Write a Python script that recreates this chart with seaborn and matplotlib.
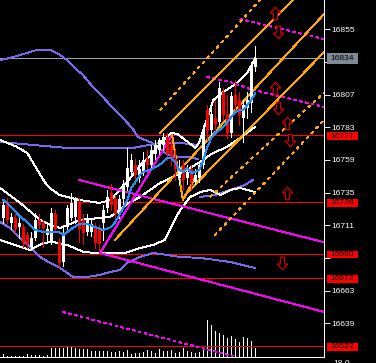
import numpy as np
import matplotlib
matplotlib.use('Agg')
import matplotlib.pyplot as plt
import seaborn as sns
from matplotlib.path import Path
from matplotlib.patches import Rectangle

# ---- candles (price) ----
opens = [16716, 16728, 16713, 16716, 16710, 16710, 16704, 16695, 16702, 16715,
         16713, 16704, 16698, 16719, 16699, 16684, 16710, 16716, 16717, 16728,
         16715, 16706, 16706, 16710, 16708, 16713, 16724, 16735, 16730, 16719,
         16730, 16739, 16750, 16755, 16746, 16750, 16760, 16755, 16763, 16766,
         16770, 16776, 16770, 16760, 16746, 16755, 16746, 16752, 16743, 16746,
         16755, 16796, 16781, 16790, 16787, 16809, 16792, 16779, 16807, 16803,
         16790, 16797, 16801, 16827]
highs = [16730, 16731, 16720, 16719, 16716, 16712, 16706, 16706, 16720, 16719,
         16715, 16711, 16724, 16722, 16702, 16709, 16726, 16735, 16732, 16731,
         16719, 16719, 16716, 16713, 16711, 16726, 16737, 16741, 16733, 16733,
         16744, 16768, 16763, 16760, 16759, 16765, 16766, 16770, 16774, 16775,
         16779, 16779, 16774, 16766, 16759, 16759, 16755, 16755, 16752, 16757,
         16785, 16799, 16797, 16803, 16816, 16812, 16807, 16809, 16818, 16809,
         16803, 16809, 16831, 16843]
lows = [16713, 16713, 16708, 16706, 16702, 16695, 16694, 16693, 16700, 16709,
        16695, 16698, 16697, 16706, 16680, 16681, 16708, 16715, 16713, 16699,
        16697, 16704, 16703, 16694, 16691, 16700, 16721, 16722, 16713, 16716,
        16726, 16737, 16748, 16741, 16743, 16748, 16750, 16753, 16760, 16763,
        16766, 16759, 16755, 16744, 16741, 16737, 16741, 16737, 16741, 16743,
        16753, 16774, 16777, 16781, 16785, 16788, 16775, 16776, 16796, 16785,
        16772, 16790, 16794, 16824]
closes = [16726, 16715, 16717, 16708, 16713, 16698, 16697, 16702, 16715, 16711,
          16709, 16708, 16720, 16708, 16683, 16705, 16724, 16727, 16730, 16708,
          16705, 16715, 16712, 16698, 16697, 16722, 16732, 16726, 16719, 16730,
          16741, 16753, 16759, 16748, 16752, 16759, 16755, 16766, 16770, 16774,
          16776, 16763, 16760, 16752, 16753, 16744, 16750, 16743, 16748, 16755,
          16781, 16780, 16793, 16785, 16812, 16792, 16779, 16806, 16799, 16792,
          16799, 16803, 16829, 16834]
volumes = [27, 10, 7, 7, 7, 7, 27, 17, 17, 17, 13, 17, 90, 90, 90, 90, 97, 97,
           87, 80, 83, 77, 63, 63, 57, 63, 57, 47, 47, 57, 50, 67, 33, 40, 43,
           47, 67, 60, 43, 77, 63, 60, 67, 40, 50, 87, 60, 53, 40, 50, 90, 367,
           323, 257, 243, 220, 190, 210, 177, 150, 197, 190, 157, 87]

# ---- indicator lines (bar position, price) ----
ma_x = [0, 2, 4, 6, 8, 10, 12, 14, 15, 17, 19, 21, 23, 25, 27, 28, 29, 30, 31, 32,
        33, 34, 35, 37, 39, 40, 41, 42, 43, 44, 45, 46, 47, 48, 49, 50, 51, 52, 53,
        54, 55, 56, 57, 58, 59, 60, 61, 62, 63]
ma_y = [16729.6, 16724.4, 16717.8, 16713.4, 16707.5, 16706, 16706, 16706, 16703.8,
        16708.3, 16711.9, 16711.9, 16709.7, 16707.5, 16709.7, 16713.4, 16718.5,
        16723.7, 16729.6, 16738.4, 16742.8, 16747.2, 16750.1, 16752.3, 16755.3,
        16757.5, 16760.4, 16760.4, 16757.5, 16751.6, 16750.1, 16753.1, 16749.4,
        16750.1, 16751.6, 16758.9, 16768.5, 16775.1, 16778.8, 16781, 16783.2,
        16786.9, 16790.5, 16794.2, 16795.7, 16795.7, 16799.4, 16803, 16808.2]

bb_up_x = [-0.8, 3, 6, 8.5, 10.5, 12, 14, 16, 19, 24, 27, 29, 32, 34, 37, 39, 42,
           43.5, 45.5, 48, 49, 51, 52.5, 55, 58.5, 61, 63]
bb_up_y = [16773.6, 16769.2, 16764.1, 16751.6, 16742.1, 16737.6, 16733.2, 16731.8,
           16729.6, 16727.4, 16729.6, 16736.9, 16746.5, 16754.5, 16762.6, 16770.7,
           16778.8, 16778.1, 16773.6, 16767.8, 16772.2, 16789.8, 16803, 16808.9,
           16815.5, 16822.9, 16833.9]
bb_mid_x = [-0.8, 4.2, 9.2, 11.7, 14.2, 19.2, 26.7, 30, 31.7, 34.2, 39.2, 43.4,
            46.7, 49.2, 52.4, 55.9, 58.4, 60.9, 62.9]
bb_mid_y = [16738.4, 16727.4, 16714.9, 16711.2, 16709, 16714.9, 16717.1, 16724.4,
            16728.1, 16731.8, 16742.1, 16747.9, 16753.1, 16757.5, 16764.1, 16768.5,
            16773.6, 16778.8, 16783.2]
bb_low_x = [-0.8, 3, 6.7, 10, 12.4, 16, 20, 23.4, 30.4, 34.2, 37.4, 40.4, 42.2,
            44.2, 46.7, 49.2, 51.7, 54.2, 56.7, 59.2, 62.9]
bb_low_y = [16700.2, 16696.5, 16692.8, 16698, 16698.7, 16696.5, 16691.4, 16690.6,
            16690.6, 16694.3, 16696.5, 16700.2, 16711.2, 16722.2, 16731.8, 16735.4,
            16736.9, 16733.2, 16736.9, 16738.4, 16735.4]

env_up_x = [-0.8, 1.7, 4.2, 6.7, 8.4, 11.7, 14.2, 15.9, 18.4, 19.9, 22.4, 24.9,
            27.4, 29.2, 32.2, 33.7, 35.4, 37.2, 38.7, 40.4, 42.9, 46.7, 48.7]
env_up_y = [16832.4, 16833.9, 16836.1, 16838.3, 16839.8, 16839.8, 16836.1, 16832.4,
            16825.1, 16821.4, 16812.6, 16805.2, 16797.2, 16792, 16782.5, 16775.8,
            16773.6, 16771.5, 16767.8, 16764.1, 16761.1, 16761.1, 16759.6]
env_mid_x = [-0.8, 7.4, 15.9, 24.2, 32.4, 39.2, 44.2, 48.7]
env_mid_y = [16772.2, 16770, 16767.8, 16767.8, 16767.8, 16771.5, 16771.5, 16770]
env_low_x = [-0.8, 1.7, 4.2, 6.7, 9.2, 11.7, 14.2, 17.4, 20.9, 24.2, 26.7, 29.2,
             30.9, 34.2, 37.4, 40.9, 44.2, 49.2, 56.7, 62.9]
env_low_y = [16713.4, 16709, 16701.6, 16695, 16687.7, 16683.3, 16679.6, 16673,
             16673, 16674.5, 16676.7, 16678.1, 16683.3, 16687.7, 16690.6, 16689.2,
             16687.7, 16687, 16684, 16679.6]
env_rise_x = [49.2, 52.9, 56.7, 60.4, 62.4]
env_rise_y = [16731.8, 16733.2, 16736.9, 16740.6, 16744.3]

# swing lines
mag_lines = [([18.9, 80.2], [16744.3, 16698.5]),
             ([24.2, 42.2], [16690.6, 16777.3]),
             ([24.2, 80.2], [16690.6, 16647.3])]
mag_dash = [([59.2, 80.2], [16862.5, 16847.8]),
            ([50.9, 56.7, 61.7, 80.2], [16819.9, 16816.3, 16811.1, 16797.9]),
            ([14.9, 57.4], [16647.3, 16614.9])]
orange_zig_x = [42.2, 44.9, 47.9]
orange_zig_y = [16777.3, 16729.6, 16745.7]
orange_solid = [([39.2, 72.4], [16778.8, 16876.5]),
                ([27.9, 80.2], [16700.2, 16866.2]),
                ([45.4, 80.2], [16733.2, 16838.3])]
orange_dash = [([39.2, 64.2], [16795.7, 16876.5]),
               ([51.7, 61.7, 80.2], [16731.8, 16759.0, 16808.2]),
               ([52.9, 80.2], [16703.8, 16788.3])]

# levels
level_prices = [16777, 16728, 16690, 16672, 16622]
bid_price = 16834
yticks = [16855, 16831, 16807, 16783, 16759, 16735, 16711, 16687, 16663, 16639]
hidden_ticks = [16831, 16687]   # covered by the price boxes

up_arrows_x = [67.9, 67.9, 71.0, 71.0]
up_arrows_y = [16867.2, 16811.6, 16786.3, 16734.9]
dn_arrows_x = [68.75, 68.75, 71.7, 69.6]
dn_arrows_y = [16853.2, 16796.9, 16773.6, 16683.1]

# ---- style ----
sns.set_style('dark')
plt.rcParams['font.family'] = ['Liberation Sans', 'DejaVu Sans']
plt.rcParams['lines.antialiased'] = False
plt.rcParams['patch.antialiased'] = False

W, H = 376, 363
fig = plt.figure(figsize=(W / 100, H / 100), dpi=100, facecolor='black')
ax = fig.add_axes([0, 6 / H, 324 / W, 357 / H])
ax.set_facecolor('black')
ax.set_xlim(-0.825, 80.175)
ax.set_ylim(16614.2, 16876.5)
ax.grid(False)

LW = 0.66

# volume (bottom, in axes fraction)
bars = np.arange(len(closes))
ax.vlines(bars, 0, np.array(volumes) / 3570.0, colors='white', lw=LW,
          transform=ax.get_xaxis_transform(), zorder=1)

# levels
for p in level_prices:
    ax.axhline(p, color='#ff0000', lw=LW, zorder=2)
ax.axhline(bid_price, color='#a0a4a8', lw=LW, zorder=2)

# indicator lines
def line(x, y, color, **kw):
    sns.lineplot(x=x, y=y, ax=ax, color=color, lw=LW, estimator=None,
                 sort=False, zorder=3, **kw)

line(env_up_x, env_up_y, '#7b68ee')
line(env_mid_x, env_mid_y, '#7b68ee')
line(env_low_x, env_low_y, '#7b68ee')
line(env_rise_x, env_rise_y, '#7b68ee')
line(bb_up_x, bb_up_y, 'white')
line(bb_mid_x, bb_mid_y, 'white')
line(bb_low_x, bb_low_y, 'white')
for xs, ys in mag_lines:
    line(xs, ys, '#ff00ff')
for xs, ys in mag_dash:
    line(xs, ys, '#ff00ff', linestyle=(0, (2.2, 3.5)))
for xs, ys in orange_solid:
    line(xs, ys, '#ffa500')
for xs, ys in orange_dash:
    line(xs, ys, '#ffa500', linestyle=(0, (2.2, 4.5)))
line(orange_zig_x, orange_zig_y, '#ffa500')

# candles
o = np.array(opens); c = np.array(closes)
cols = np.where(c >= o, 'white', '#ff0000')
ax.vlines(bars, lows, highs, colors=cols, lw=LW, zorder=4)
body_lo = np.minimum(o, c)
body_h = np.maximum(np.abs(c - o), 0.6)
ax.bar(bars, body_h, bottom=body_lo, width=0.72, color=cols, lw=0, zorder=5)

line(ma_x, ma_y, '#1e90ff')
ax.lines[-1].set_zorder(6)

# arrows
up_path = Path([(0, 0.5), (0.42, 0.04), (0.17, 0.04), (0.17, -0.5),
                (-0.17, -0.5), (-0.17, 0.04), (-0.42, 0.04), (0, 0.5)], closed=True)
dn_path = Path([(0, -0.5), (0.42, -0.04), (0.17, -0.04), (0.17, 0.5),
                (-0.17, 0.5), (-0.17, -0.04), (-0.42, -0.04), (0, -0.5)], closed=True)
ax.plot(up_arrows_x, up_arrows_y, ls='none', marker=up_path, ms=9,
        mfc='black', mec='#e00000', mew=0.8, zorder=7)
ax.plot(dn_arrows_x, dn_arrows_y, ls='none', marker=dn_path, ms=9,
        mfc='black', mec='#e00000', mew=0.8, zorder=7)

# axes frame
for s in ['top', 'left']:
    ax.spines[s].set_visible(False)
ax.spines['right'].set_color('white')
ax.spines['bottom'].set_color('white')
ax.spines['right'].set_linewidth(LW)
ax.spines['bottom'].set_linewidth(LW)
ax.set_xticks([])
ax.yaxis.tick_right()
ax.set_yticks(yticks)
ax.set_yticklabels(['' if t in hidden_ticks else str(t) for t in yticks])
ax.tick_params(axis='y', colors='white', labelsize=6.1, length=4, width=LW,
               direction='out', pad=1.5)
ax.set_xlabel('')
ax.set_ylabel('')

# price labels
def price_box(price, face, text_color, hgt):
    yf = (price - 16614.2) / (16876.5 - 16614.2) * 357 / H + 6 / H - 0.6 / H
    fig.patches.append(Rectangle((327 / W, yf - hgt / 2 / H), 31 / W, hgt / H,
                                 transform=fig.transFigure, facecolor=face,
                                 edgecolor='none', zorder=5))
    fig.text(330.5 / W, yf, str(price), color=text_color, fontsize=6.1,
             va='center', ha='left', zorder=6)

for p in level_prices:
    price_box(p, '#ff0000', 'black', 7.8)
price_box(bid_price, '#7f8a96', 'black', 11)

fig.text(333 / W, 3 / H, '18.0', color='white', fontsize=6.1, va='top', ha='left')

fig.savefig('out.png', dpi=100, facecolor='black')
